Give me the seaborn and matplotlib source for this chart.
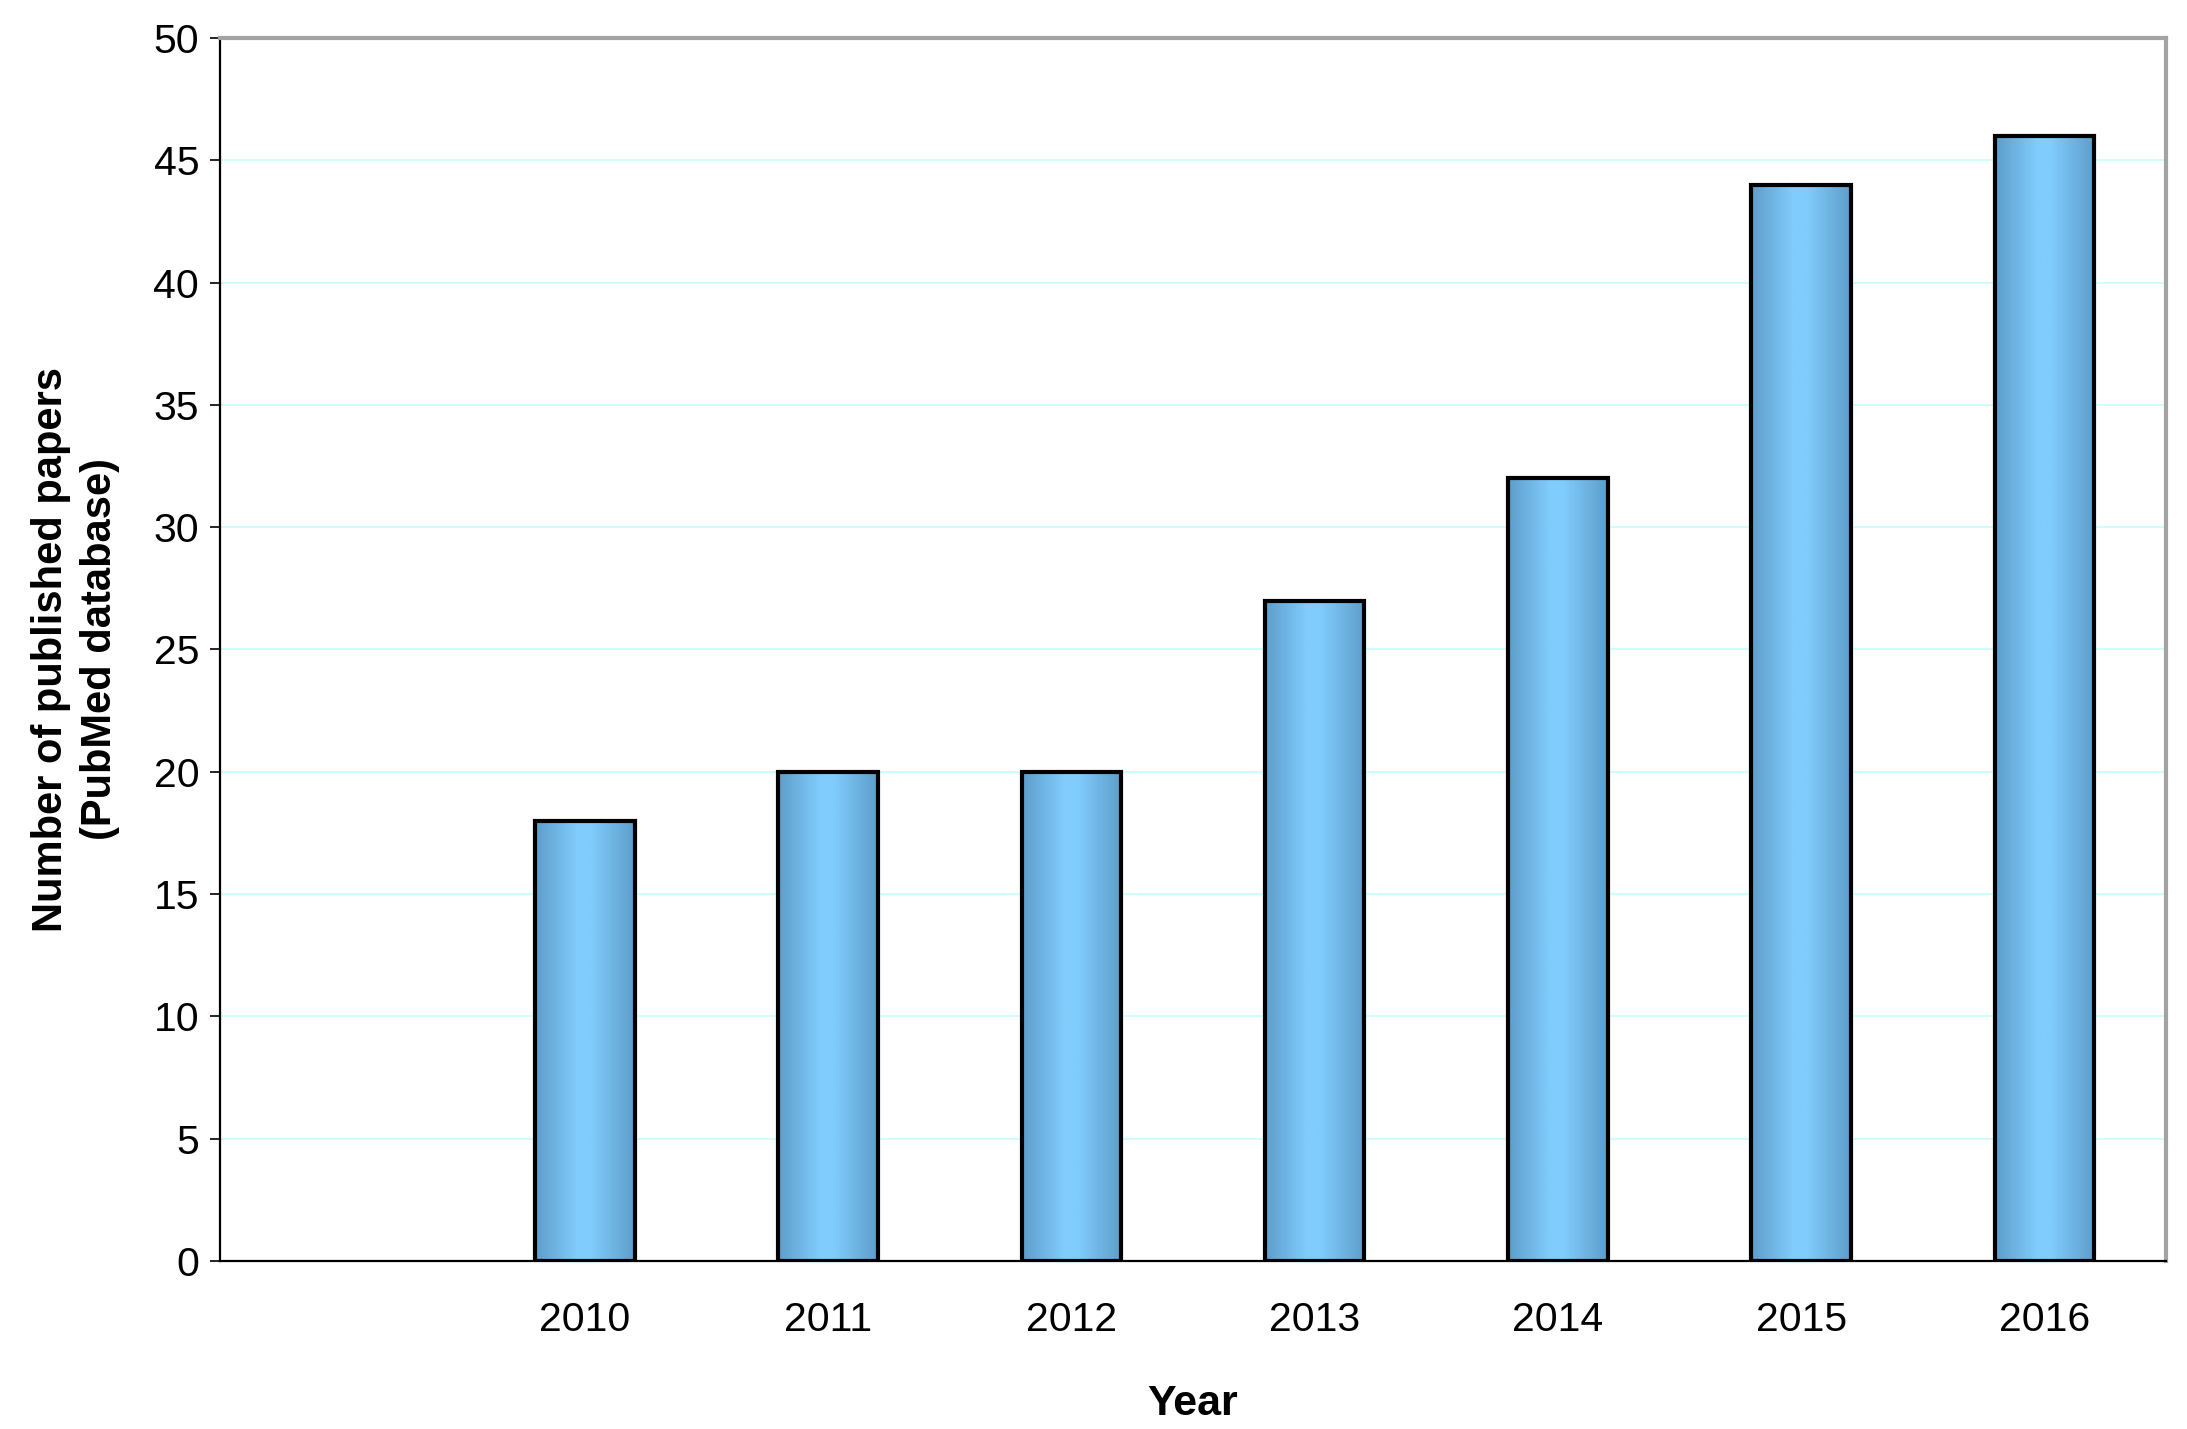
import numpy as np
import pandas as pd
import matplotlib
matplotlib.use('Agg')
import matplotlib.pyplot as plt
from matplotlib.colors import LinearSegmentedColormap
import seaborn as sns

years = ['2010', '2011', '2012', '2013', '2014', '2015', '2016']
papers = [18, 20, 20, 27, 32, 44, 46]
y_ticks = [0, 5, 10, 15, 20, 25, 30, 35, 40, 45, 50]

df = pd.DataFrame({'year': years, 'papers': papers})

sns.set_style('white')
plt.rcParams['font.family'] = ['Liberation Sans', 'DejaVu Sans']
plt.rcParams['text.color'] = 'black'
plt.rcParams['axes.labelcolor'] = 'black'
plt.rcParams['xtick.color'] = 'black'
plt.rcParams['ytick.color'] = 'black'

fig = plt.figure(figsize=(21.87, 14.29), dpi=100)
ax = fig.add_axes([0.1006, 0.1176, 0.8898, 0.8558])

sns.barplot(data=df, x='year', y='papers', ax=ax, width=0.41,
            color='#7cc8f8', edgecolor='black', linewidth=3, zorder=3)

# cylinder-like shading across each bar
shade = LinearSegmentedColormap.from_list(
    'shade', [(0, '#5d9dca'), (0.42, '#80ccfc'), (0.56, '#80ccfc'), (1, '#5d9dca')])
grad = np.linspace(0, 1, 256).reshape(1, -1)
for bar in ax.patches:
    x0, y0 = bar.get_x(), bar.get_y()
    w, h = bar.get_width(), bar.get_height()
    im = ax.imshow(grad, cmap=shade, aspect='auto', extent=[x0, x0 + w, y0, y0 + h],
                   zorder=3.5, interpolation='bilinear')
    im.set_clip_path(bar)
    bar.set_facecolor('none')
    bar.set_zorder(4)

ax.set_xlim(-1.5, 6.5)
ax.set_ylim(0, 50)
ax.set_yticks(y_ticks)
ax.yaxis.grid(True, color='#c4ffff', linewidth=1.2, zorder=0)
ax.set_axisbelow(True)

ax.set_xticks(np.arange(len(years)))
ax.set_xticklabels(years)
ax.set_xticks(np.arange(-1.5, 7, 1), minor=True)
ax.tick_params(axis='x', which='major', length=0, pad=29, labelsize=29.5)
ax.tick_params(axis='x', which='minor', length=8, width=1.2, direction='out', color='black')
ax.tick_params(axis='y', length=7, width=1.2, direction='out', color='black', pad=8, labelsize=29.5)
ax.tick_params(axis='both', bottom=True, left=True)

for side in ['top', 'right']:
    ax.spines[side].set_color('#a3a3a3')
    ax.spines[side].set_linewidth(3)
ax.spines['left'].set_color('black')
ax.spines['left'].set_linewidth(1.6)
ax.spines['bottom'].set_color('black')
ax.spines['bottom'].set_linewidth(1.6)

ax.set_xlabel('Year', fontsize=31, fontweight='bold', labelpad=32)
ax.set_ylabel('Number of published papers\n(PubMed database)', fontsize=30,
              fontweight='bold', labelpad=24, linespacing=1.3)

fig.savefig('out.png', dpi=100)
